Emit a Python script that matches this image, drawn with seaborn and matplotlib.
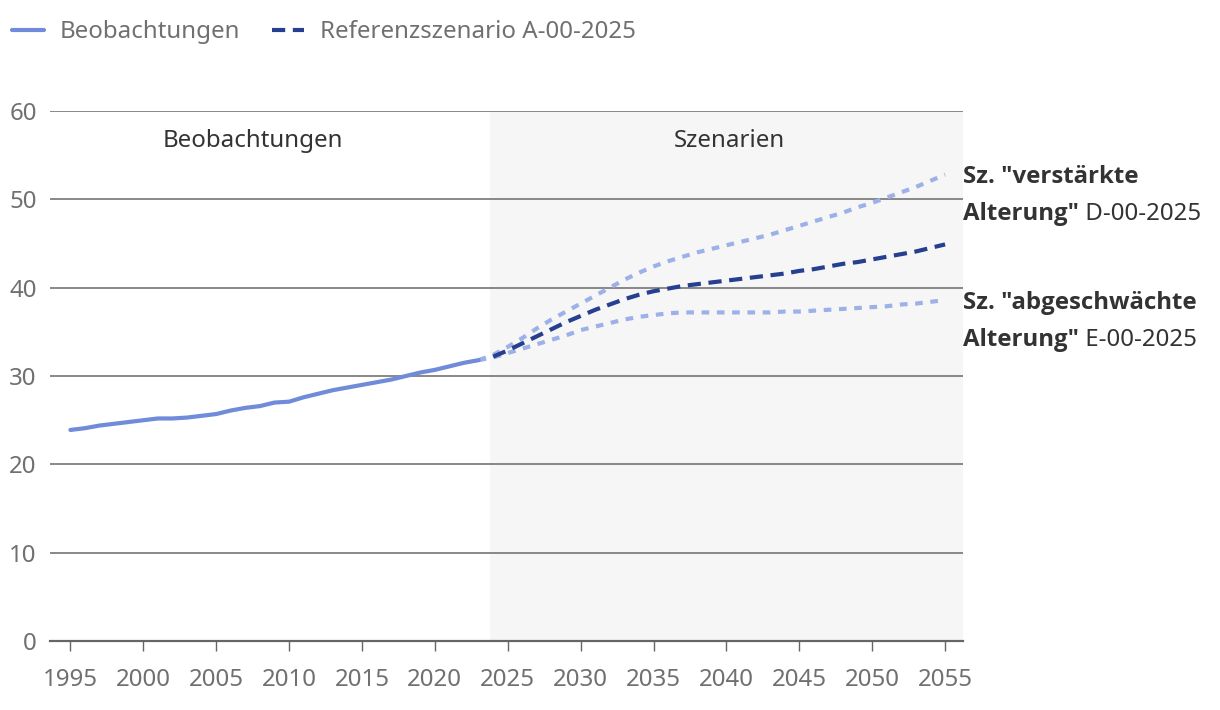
import matplotlib
matplotlib.use("Agg")
import matplotlib.pyplot as plt
from matplotlib import font_manager
import seaborn as sns
import pandas as pd
from matplotlib.lines import Line2D

# observed values 1995-2023
obs_years = list(range(1995, 2024))
obs_values = [23.9, 24.1, 24.4, 24.6, 24.8, 25.0, 25.2, 25.2, 25.3, 25.5,
              25.7, 26.1, 26.4, 26.6, 27.0, 27.1, 27.6, 28.0, 28.4, 28.7,
              29.0, 29.3, 29.6, 30.0, 30.4, 30.7, 31.1, 31.5, 31.8]

# scenarios
ref_years = list(range(2024, 2056))
ref_values = [32.2, 32.9, 33.7, 34.5, 35.3, 36.1, 36.8, 37.5, 38.1, 38.7,
              39.2, 39.6, 39.9, 40.2, 40.4, 40.6, 40.8, 41.0, 41.2, 41.4,
              41.6, 41.9, 42.1, 42.4, 42.7, 42.9, 43.2, 43.5, 43.8, 44.1,
              44.5, 44.9]

alt_years = list(range(2023, 2056))
high_values = [31.8, 32.4, 33.3, 34.3, 35.4, 36.4, 37.3, 38.2, 39.1, 40.0,
               40.9, 41.7, 42.4, 43.0, 43.5, 44.0, 44.4, 44.8, 45.2, 45.6,
               46.0, 46.5, 47.0, 47.5, 48.0, 48.5, 49.1, 49.6, 50.2, 50.8,
               51.4, 52.1, 52.8]
low_values = [31.8, 32.1, 32.6, 33.1, 33.6, 34.1, 34.6, 35.2, 35.6, 36.0,
              36.4, 36.7, 36.9, 37.1, 37.2, 37.2, 37.2, 37.2, 37.2, 37.2,
              37.2, 37.3, 37.3, 37.4, 37.5, 37.6, 37.7, 37.8, 37.9, 38.1,
              38.2, 38.4, 38.6]

c_obs = "#6f8bd9"
c_ref = "#263f8f"
c_alt = "#9db1e9"
c_grid = "#7f7f7f"
c_tick = "#707070"
c_text = "#333333"
fs = 17.3

sns.set_style("white")
plt.rcParams["font.family"] = ["Noto Sans", "DejaVu Sans"]
plt.rcParams["lines.scale_dashes"] = False

# pick a bold face of normal width
bold_font = None
for fam in ["Noto Sans", "Open Sans", "Lato", "Roboto", "Inter"]:
    for f in font_manager.fontManager.ttflist:
        if f.name == fam and f.weight in (700, "bold") and f.stretch == "normal" and f.style == "normal":
            bold_font = f.fname
            break
    if bold_font:
        break
bold_kw = {"fontproperties": font_manager.FontProperties(fname=bold_font, size=fs)} if bold_font \
    else {"fontsize": fs, "fontweight": "bold"}

fig = plt.figure(figsize=(12.2, 7.1), dpi=100)
ax = fig.add_axes([0.041, 0.097, 0.748, 0.7467])

ax.axvspan(2023.8, 2057, color="#f6f6f6", zorder=0, lw=0)
for y in range(10, 61, 10):
    ax.axhline(y, color=c_grid, lw=1.3, zorder=1)

df_obs = pd.DataFrame({"Jahr": obs_years, "Wert": obs_values})
df_ref = pd.DataFrame({"Jahr": ref_years, "Wert": ref_values})
df_alt = pd.DataFrame({"Jahr": alt_years, "hoch": high_values, "niedrig": low_values})

sns.lineplot(data=df_alt, x="Jahr", y="hoch", ax=ax, color=c_alt, lw=3,
             linestyle=(0, (5.5, 5.5)), zorder=3)
sns.lineplot(data=df_alt, x="Jahr", y="niedrig", ax=ax, color=c_alt, lw=3,
             linestyle=(0, (5.5, 5.5)), zorder=3)
sns.lineplot(data=df_obs, x="Jahr", y="Wert", ax=ax, color=c_obs, lw=3, zorder=4)
sns.lineplot(data=df_ref, x="Jahr", y="Wert", ax=ax, color=c_ref, lw=3,
             linestyle=(0, (9.5, 5.5)), zorder=4)

ax.set_xlim(1993.6, 2056.2)
ax.set_ylim(0, 60)
ax.set_xticks(range(1995, 2056, 5))
ax.set_yticks(range(0, 61, 10))
ax.set_xlabel("")
ax.set_ylabel("")
for s in ["left", "right", "top"]:
    ax.spines[s].set_visible(False)
ax.spines["bottom"].set_color("#666666")
ax.spines["bottom"].set_linewidth(1.6)
ax.tick_params(axis="x", length=7, width=1, color="#666666", labelsize=fs,
               labelcolor=c_tick, pad=12.5, bottom=True)
ax.tick_params(axis="y", length=0, labelsize=fs, labelcolor=c_tick, pad=9.5)

ax.text(2007.5, 56.6, "Beobachtungen", ha="center", va="center", fontsize=fs, color=c_text)
ax.text(2040.2, 56.6, "Szenarien", ha="center", va="center", fontsize=fs, color=c_text)

# right-hand labels
def side_label(y, line1, bold2, rest):
    ax.text(1.0, y, line1, transform=ax.get_yaxis_transform(), ha="left",
            va="center", color=c_text, **bold_kw)
    t2 = ax.text(1.0, y - 4.2, bold2, transform=ax.get_yaxis_transform(), ha="left",
                 va="center", color=c_text, **bold_kw)
    ax.annotate(rest, xy=(1, 0), xycoords=t2, va="bottom", ha="left",
                fontsize=fs, color=c_text)

side_label(52.5, 'Sz. "verstärkte', 'Alterung"', " D-00-2025")
side_label(38.3, 'Sz. "abgeschwächte', 'Alterung"', " E-00-2025")

handles = [Line2D([], [], color=c_obs, lw=3),
           Line2D([], [], color=c_ref, lw=3, linestyle=(0, (9.5, 5.5)))]
fig.legend(handles, ["Beobachtungen", "Referenzszenario A-00-2025"],
           loc="upper left", bbox_to_anchor=(-0.008, 1.002), ncol=2, frameon=False,
           fontsize=fs, labelcolor=c_tick, handlelength=1.33, columnspacing=1.33,
           handletextpad=0.67)

fig.savefig("out.png", dpi=100)
